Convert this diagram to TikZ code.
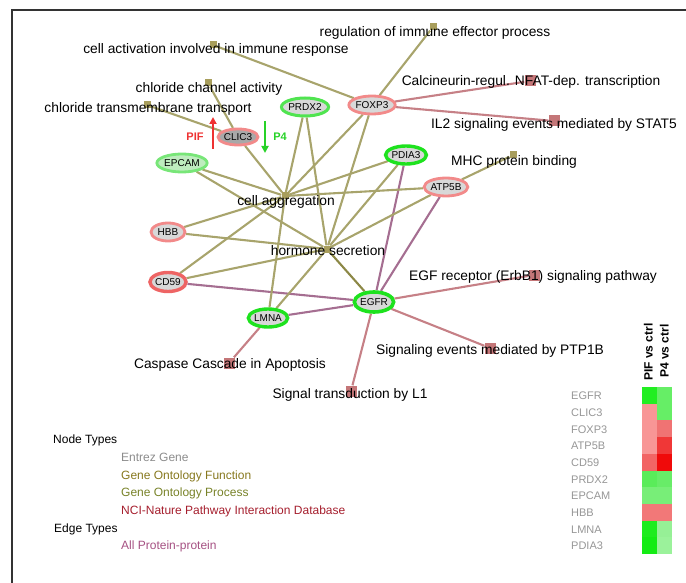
\documentclass[tikz,border=0pt]{standalone}
\usepackage{fontspec}
\setmainfont{Liberation Sans}
\usetikzlibrary{shapes.geometric,arrows.meta}
\pgfdeclarelayer{bg}
\pgfsetlayers{bg,main}
\definecolor{goedgec}{RGB}{168,164,108}
\definecolor{ppedgec}{RGB}{165,110,145}
\definecolor{pwedgec}{RGB}{198,128,134}
\definecolor{gosqc}{RGB}{168,158,92}
\definecolor{pwsqc}{RGB}{196,118,120}
\definecolor{genefill}{RGB}{216,216,216}
\definecolor{gbright}{RGB}{30,226,30}
\definecolor{gmid}{RGB}{80,228,80}
\definecolor{glight}{RGB}{120,230,120}
\definecolor{rlight}{RGB}{242,138,138}
\definecolor{rmid}{RGB}{238,100,100}
\definecolor{pifred}{RGB}{238,50,50}
\definecolor{ptgreen}{RGB}{40,210,40}
\definecolor{leggray}{RGB}{140,140,140}
\definecolor{legfun}{RGB}{135,120,30}
\definecolor{legproc}{RGB}{120,130,40}
\definecolor{legnci}{RGB}{165,30,45}
\definecolor{legpp}{RGB}{165,80,130}
\definecolor{hmgray}{RGB}{150,150,150}
\begin{document}
\begin{tikzpicture}[x=1pt,y=-1pt,
  gene/.style={ellipse, fill=genefill, inner sep=0pt, minimum width=34pt, minimum height=18pt, line width=2.8pt, font=\fontsize{10}{10}\selectfont},
  gosq/.style={rectangle, fill=gosqc, minimum size=7pt, inner sep=0pt},
  pwsq/.style={rectangle, fill=pwsqc, minimum size=11pt, inner sep=0pt},
  lab/.style={font=\fontsize{13.8}{14}\selectfont, inner sep=0pt, anchor=mid},
  goedge/.style={draw=goedgec, line width=2.1pt},
  ppedge/.style={draw=ppedgec, line width=2.1pt},
  pwedge/.style={draw=pwedgec, line width=2.1pt},
  legt/.style={font=\fontsize{12}{12}\selectfont, inner sep=0pt, anchor=mid west},
  hlab/.style={font=\fontsize{11}{11}\selectfont, inner sep=0pt, anchor=mid west, text=hmgray},
  hhead/.style={font=\bfseries\fontsize{12}{12}\selectfont, inner sep=0pt, anchor=mid west, rotate=90}
]
\useasboundingbox (0,0) rectangle (686,583);
\draw[line width=2pt, black!80] (12,583) -- (12,10) -- (686,10);

% GO squares
\node[gosq] (gca) at (213,45) {};
\node[gosq] (gre) at (433,27) {};
\node[gosq] (gcc) at (208,83) {};
\node[gosq] (gct) at (147,105) {};
\node[gosq] (gag) at (285,196) {};
\node[gosq] (ghs) at (327,249) {};
\node[gosq] (gmhc) at (513,155) {};
% pathway squares
\node[pwsq] (pnf) at (530,81) {};
\node[pwsq] (pil) at (554,121) {};
\node[pwsq] (pegf) at (534,275) {};
\node[pwsq] (pptp) at (490,348) {};
\node[pwsq] (pl1) at (351,391) {};
\node[pwsq] (pcas) at (229,363) {};

% genes
\node[gene, draw=gmid, line width=3pt, minimum width=34pt, minimum height=18pt] (prdx2) at (305,107) {PRDX2};
\node[gene, draw=rlight] (foxp3) at (372,105) {FOXP3};
\node[gene, draw=rlight, fill={rgb,255:red,168;green,168;blue,168}, minimum height=16pt] (clic3) at (238,137) {CLIC3};
\node[gene, draw=glight, fill={rgb,255:red,190;green,236;blue,190}] (epcam) at (182,163) {EPCAM};
\node[gene, draw=gbright, line width=3.4pt, minimum width=35pt] (pdia3) at (406,155) {PDIA3};
\node[gene, draw=rlight] (atp5b) at (446,187) {ATP5B};
\node[gene, draw=rlight] (hbb) at (168,232) {HBB};
\node[gene, draw=rmid, line width=3.4pt, minimum width=36pt, minimum height=19pt] (cd59) at (168,282) {CD59};
\node[gene, draw=gbright, line width=3.4pt, minimum width=35pt, minimum height=18pt] (lmna) at (268,318) {LMNA};
\node[gene, draw=gbright, line width=3.6pt, minimum width=36pt, minimum height=20pt] (egfr) at (374,302) {EGFR};

\begin{pgfonlayer}{bg}
\draw[goedge] (foxp3) -- (gca);
\draw[goedge] (foxp3) -- (gre);
\draw[goedge] (foxp3) -- (gag);
\draw[goedge] (foxp3) -- (ghs);
\draw[pwedge] (foxp3) -- (pnf);
\draw[pwedge] (foxp3) -- (pil);
\draw[goedge] (clic3) -- (gcc);
\draw[goedge] (clic3) -- (gct);
\draw[goedge] (clic3) -- (gag);
\draw[goedge] (prdx2) -- (gag);
\draw[goedge] (prdx2) -- (ghs);
\draw[goedge] (epcam) -- (gag);
\draw[goedge] (epcam) -- (ghs);
\draw[goedge] (pdia3) -- (gag);
\draw[goedge] (pdia3) -- (ghs);
\draw[ppedge] (pdia3) -- (egfr);
\draw[goedge] (atp5b) -- (gag);
\draw[goedge] (atp5b) -- (ghs);
\draw[goedge] (atp5b) -- (gmhc);
\draw[ppedge] (atp5b) -- (egfr);
\draw[goedge] (hbb) -- (gag);
\draw[goedge] (hbb) -- (ghs);
\draw[goedge] (cd59) -- (gag);
\draw[goedge] (cd59) -- (ghs);
\draw[ppedge] (cd59) -- (egfr);
\draw[goedge] (lmna) -- (gag);
\draw[goedge] (lmna) -- (ghs);
\draw[ppedge] (lmna) -- (egfr);
\draw[pwedge] (lmna) -- (pcas);
\draw[goedge, draw={rgb,255:red,140;green,136;blue,70}] (egfr) -- (ghs);
\draw[pwedge] (egfr) -- (pegf);
\draw[pwedge] (egfr) -- (pptp);
\draw[pwedge] (egfr) -- (pl1);
\end{pgfonlayer}

% labels
\node[lab] (lca) at (216,51) {cell activation involved in immune response};
\node[lab] (lre) at (435,34) {regulation of immune effector process};
\node[lab] (lcc) at (209,90) {chloride channel activity};
\node[lab] (lct) at (148,110) {chloride transmembrane transport};
\node[lab] (lag) at (286,203) {cell aggregation};
\node[lab] (lhs) at (328,253) {hormone secretion};
\node[lab] (lmhc) at (514,163) {MHC protein binding};
\node[lab] (lnf) at (531,83) {Calcineurin-regul. NFAT-dep. transcription};
\node[lab] (lil) at (554,126) {IL2 signaling events mediated by STAT5};
\node[lab] (legf) at (533,278) {EGF receptor (ErbB1) signaling pathway};
\node[lab] (lptp) at (490,352) {Signaling events mediated by PTP1B};
\node[lab] (ll1) at (350,396) {Signal transduction by L1};
\node[lab] (lcas) at (230,366) {Caspase Cascade in Apoptosis};

% PIF / P4 arrows
\coordinate (pifb) at (213,149);
\coordinate (pift) at (213,117);
\coordinate (p4b) at (265,121);
\coordinate (p4t) at (265,153);
\draw[pifred, line width=2.4pt, -{Triangle[length=7pt,width=7pt]}] (pifb) -- (pift);
\draw[ptgreen, line width=2.4pt, -{Triangle[length=7pt,width=7pt]}] (p4b) -- (p4t);
\node[font=\bfseries\fontsize{11}{11}\selectfont, text=pifred, inner sep=0pt] (piflab) at (195,137) {PIF};
\node[font=\bfseries\fontsize{11}{11}\selectfont, text=ptgreen, inner sep=0pt] (p4lab) at (280,137) {P4};

% legend
\node[legt] (ntypes) at (53,441) {Node Types};
\node[legt, text=leggray] (l1) at (121,459) {Entrez Gene};
\node[legt, text=legfun] (l2) at (121,477) {Gene Ontology Function};
\node[legt, text=legproc] (l3) at (121,494) {Gene Ontology Process};
\node[legt, text=legnci] (l4) at (121,512) {NCI-Nature Pathway Interaction Database};
\node[legt] (etypes) at (54,530) {Edge Types};
\node[legt, text=legpp] (l5) at (121,547) {All Protein-protein};

% heatmap
\fill[fill={rgb,255:red,34;green,238;blue,34}] (642,387) rectangle (657,403.7);
\fill[fill={rgb,255:red,102;green,238;blue,102}] (657,387) rectangle (672,403.7);
\fill[fill={rgb,255:red,248;green,150;blue,150}] (642,403.7) rectangle (657,420.4);
\fill[fill={rgb,255:red,102;green,238;blue,102}] (657,403.7) rectangle (672,420.4);
\fill[fill={rgb,255:red,248;green,150;blue,150}] (642,420.4) rectangle (657,437.1);
\fill[fill={rgb,255:red,240;green,115;blue,115}] (657,420.4) rectangle (672,437.1);
\fill[fill={rgb,255:red,248;green,150;blue,150}] (642,437.1) rectangle (657,453.8);
\fill[fill={rgb,255:red,240;green,55;blue,55}] (657,437.1) rectangle (672,453.8);
\fill[fill={rgb,255:red,242;green,100;blue,100}] (642,453.8) rectangle (657,470.5);
\fill[fill={rgb,255:red,240;green,10;blue,10}] (657,453.8) rectangle (672,470.5);
\fill[fill={rgb,255:red,90;green,236;blue,90}] (642,470.5) rectangle (657,487.2);
\fill[fill={rgb,255:red,104;green,236;blue,104}] (657,470.5) rectangle (672,487.2);
\fill[fill={rgb,255:red,120;green,238;blue,120}] (642,487.2) rectangle (657,503.9);
\fill[fill={rgb,255:red,120;green,238;blue,120}] (657,487.2) rectangle (672,503.9);
\fill[fill={rgb,255:red,242;green,120;blue,120}] (642,503.9) rectangle (657,520.6);
\fill[fill={rgb,255:red,242;green,120;blue,120}] (657,503.9) rectangle (672,520.6);
\fill[fill={rgb,255:red,30;green,236;blue,30}] (642,520.6) rectangle (657,537.3);
\fill[fill={rgb,255:red,150;green,240;blue,150}] (657,520.6) rectangle (672,537.3);
\fill[fill={rgb,255:red,20;green,236;blue,20}] (642,537.3) rectangle (657,554);
\fill[fill={rgb,255:red,155;green,242;blue,155}] (657,537.3) rectangle (672,554);

\node[hlab] (h0) at (571,397) {EGFR};
\node[hlab] (h1) at (571,413.7) {CLIC3};
\node[hlab] (h2) at (571,430.4) {FOXP3};
\node[hlab] (h3) at (571,447.1) {ATP5B};
\node[hlab] (h4) at (571,463.8) {CD59};
\node[hlab] (h5) at (571,480.5) {PRDX2};
\node[hlab] (h6) at (571,497.2) {EPCAM};
\node[hlab] (h7) at (571,513.9) {HBB};
\node[hlab] (h8) at (571,530.6) {LMNA};
\node[hlab] (h9) at (571,547.3) {PDIA3};

\node[hhead] (hh1) at (650,381) {PIF vs ctrl};
\node[hhead] (hh2) at (666,378) {P4 vs ctrl};
\end{tikzpicture}
\end{document}
